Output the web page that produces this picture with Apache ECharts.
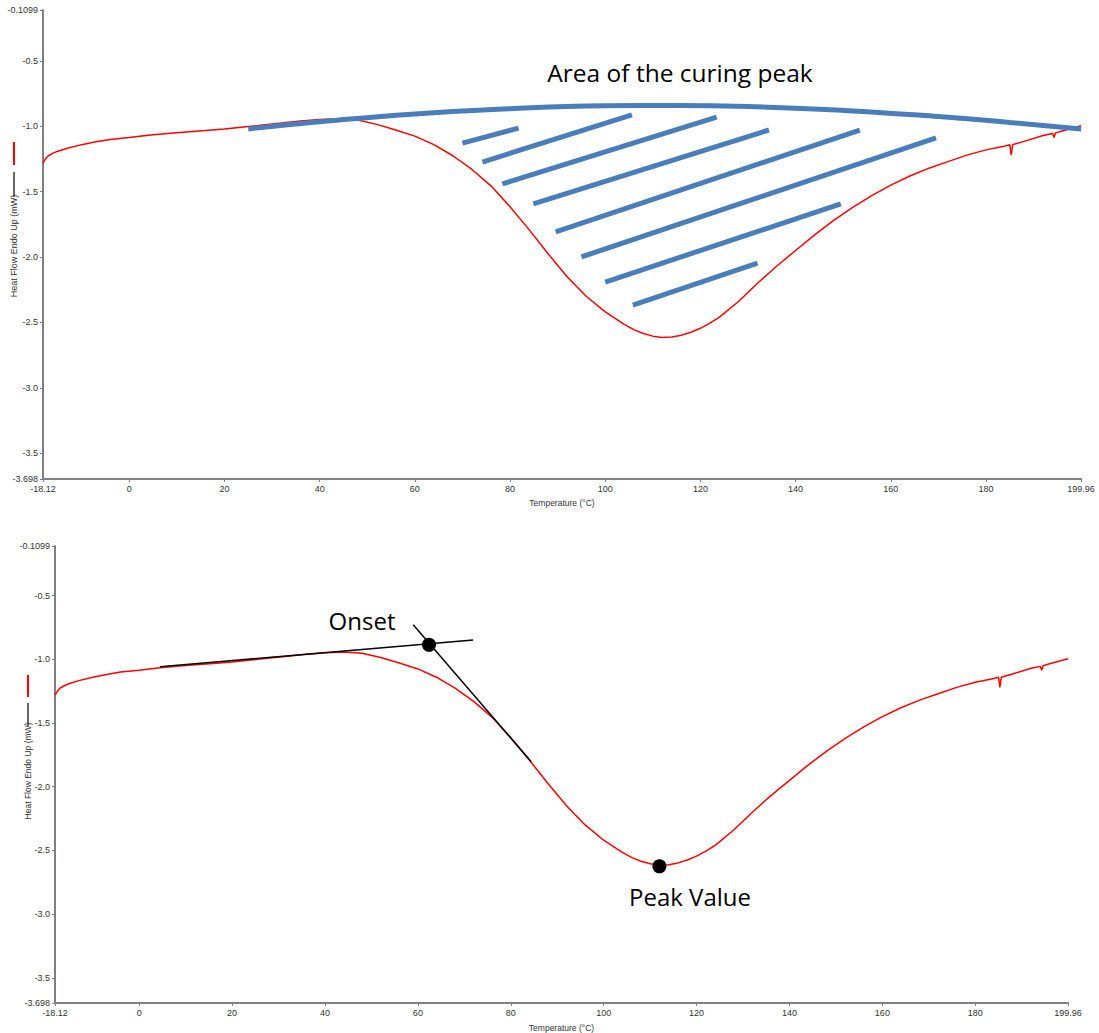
<!DOCTYPE html>
<html>
<head>
<meta charset="utf-8">
<script src="https://cdn.jsdelivr.net/npm/echarts@6/dist/echarts.min.js"></script>
<style>
html,body{margin:0;padding:0;background:#fff;}
#main{width:1099px;height:1033px;}
</style>
</head>
<body>
<div id="main"></div>
<script>
// ---- Data ----
const temperature = [-18.12,-17.5,-17,-16,-15,-13,-10,-7,-4,0,4,8,12,16,20,24,28,32,36,40,44,48,52,56,60,64,68,72,76,80,84,88,92,96,100,104,106,108,110,112,114,116,118,120,122,124,128,132,136,140,144,148,152,156,160,164,168,172,176,180,184,185,185.3,185.6,188,192,194,194.3,194.6,196,199.96];
const heatFlow    = [-1.28,-1.245,-1.225,-1.205,-1.19,-1.167,-1.14,-1.118,-1.10,-1.085,-1.068,-1.055,-1.043,-1.032,-1.02,-1.005,-0.99,-0.975,-0.96,-0.948,-0.942,-0.952,-0.985,-1.028,-1.075,-1.14,-1.225,-1.33,-1.455,-1.615,-1.79,-1.975,-2.15,-2.30,-2.42,-2.515,-2.555,-2.585,-2.605,-2.615,-2.612,-2.598,-2.575,-2.545,-2.505,-2.46,-2.34,-2.20,-2.07,-1.95,-1.83,-1.72,-1.62,-1.53,-1.45,-1.38,-1.32,-1.27,-1.22,-1.18,-1.15,-1.14,-1.22,-1.14,-1.115,-1.07,-1.055,-1.085,-1.05,-1.035,-0.995];

// Blue "area" outline arc (top chart)
const arcTemp  = [25,40,60,80,100,115,130,150,170,185,200];
const arcValue = [-1.02,-0.965,-0.905,-0.865,-0.843,-0.84,-0.848,-0.878,-0.925,-0.97,-1.02];

// Hatch segments (start temp, start value, end temp, end value)
const hatchStartT = [70.0,74.2,78.4,84.9,89.6,95.0,100.0,105.8];
const hatchStartV = [-1.128,-1.273,-1.441,-1.594,-1.808,-1.999,-2.191,-2.367];
const hatchEndT   = [81.8,105.6,123.4,134.4,153.5,169.5,149.5,132.0];
const hatchEndV   = [-1.013,-0.913,-0.929,-1.028,-1.028,-1.089,-1.594,-2.046];

// Bottom chart construction lines and points
const baselineTangent = [[4.5,-1.058],[71.9,-0.847]];
const slopeTangent    = [[59.0,-0.729],[84.4,-1.803]];
const onsetPoint = [62.4,-0.886];
const peakPoint  = [112.0,-2.625];

// Axis ticks
const xTicks = [-18.12,0,20,40,60,80,100,120,140,160,180,199.96];
const yTicks = [-3.698,-3.5,-3.0,-2.5,-2.0,-1.5,-1.0,-0.5,-0.1099];
const xMin = -18.12, xMax = 199.96, yMin = -3.698, yMax = -0.1099;

// ---- Chart ----
const curve = temperature.map((t,i)=>[t,heatFlow[i]]);
const arc = arcTemp.map((t,i)=>[t,arcValue[i]]);
const BLUE = '#4a7ebb';
const AXIS = '#808080';
const FONT = 'Liberation Sans, Arial, sans-serif';
const BIG = 'Open Sans, sans-serif';

function fmtY(v){
  const r = Math.round(v*10)/10;
  return Math.abs(r - v) < 1e-9 ? v.toFixed(1) : String(v);
}
function xAxisCfg(idx){
  return {
    gridIndex: idx, type:'value', min:xMin, max:xMax,
    name:'Temperature (°C)', nameLocation:'middle', nameGap: idx===0?19:20,
    nameTextStyle:{fontSize:8.5,color:'#333',fontFamily:FONT},
    axisLine:{onZero:false,lineStyle:{color:AXIS,width:2}},
    axisTick:{show:true,length:3,customValues:xTicks,lineStyle:{color:AXIS,width:1}},
    axisLabel:{customValues:xTicks,fontSize:9,color:'#333',fontFamily:FONT,margin:5,
      formatter:v=>String(v)},
    splitLine:{show:false}
  };
}
function yAxisCfg(idx){
  return {
    gridIndex: idx, type:'value', min:yMin, max:yMax,
    axisLine:{onZero:false,lineStyle:{color:AXIS,width:2}},
    axisTick:{show:true,length:3,customValues:yTicks,lineStyle:{color:AXIS,width:1}},
    axisLabel:{customValues:yTicks,fontSize:9,color:'#333',fontFamily:FONT,margin:5,formatter:fmtY},
    splitLine:{show:false}
  };
}

const series = [];
// top chart
series.push({type:'line',xAxisIndex:0,yAxisIndex:0,data:curve,showSymbol:false,
  lineStyle:{color:'#ff0000',width:1.5},z:2,animation:false});
series.push({type:'line',xAxisIndex:0,yAxisIndex:0,data:arc,smooth:true,showSymbol:false,
  lineStyle:{color:BLUE,width:5,cap:'butt'},z:3,animation:false});
hatchStartT.forEach((t,i)=>{
  series.push({type:'line',xAxisIndex:0,yAxisIndex:0,
    data:[[t,hatchStartV[i]],[hatchEndT[i],hatchEndV[i]]],showSymbol:false,
    lineStyle:{color:BLUE,width:5,cap:'butt'},z:3,animation:false});
});
// bottom chart
series.push({type:'line',xAxisIndex:1,yAxisIndex:1,data:curve,showSymbol:false,
  lineStyle:{color:'#ff0000',width:1.5},z:2,animation:false});
series.push({type:'line',xAxisIndex:1,yAxisIndex:1,data:baselineTangent,showSymbol:false,
  lineStyle:{color:'#000',width:1.5},z:3,animation:false});
series.push({type:'line',xAxisIndex:1,yAxisIndex:1,data:slopeTangent,showSymbol:false,
  lineStyle:{color:'#000',width:1.5},z:3,animation:false});
series.push({type:'scatter',xAxisIndex:1,yAxisIndex:1,data:[onsetPoint,peakPoint],
  symbolSize:14,itemStyle:{color:'#000',opacity:1},z:4,animation:false});

function yName(x, yText, yBlack, yRed, size){
  return [
    {type:'text',x:x,y:yText,rotation:Math.PI/2,
     style:{text:'Heat Flow Endo Up (mW)',fontSize:size,fill:'#333',fontFamily:FONT,align:'center',verticalAlign:'middle'}},
    {type:'line',shape:{x1:x,y1:yBlack[0],x2:x,y2:yBlack[1]},style:{stroke:'#333',lineWidth:1.5}},
    {type:'line',shape:{x1:x,y1:yRed[0],x2:x,y2:yRed[1]},style:{stroke:'#ff0000',lineWidth:2}}
  ];
}

const chart = echarts.init(document.getElementById('main'),null,{renderer:'svg'});
chart.setOption({
  backgroundColor:'#fff',
  animation:false,
  grid:[
    {left:43,right:18,top:10,height:469,containLabel:false},
    {left:55,right:31,top:546,height:458,containLabel:false}
  ],
  xAxis:[xAxisCfg(0),xAxisCfg(1)],
  yAxis:[yAxisCfg(0),yAxisCfg(1)],
  series:series,
  graphic:[
    ...yName(14,246,[172,197],[142,165],9),
    ...yName(28,771,[703,726],[675,697],8.5),
    {type:'text',x:680,y:72,style:{text:'Area of the curing peak',fontSize:24.5,fill:'#000',fontFamily:BIG,align:'center',verticalAlign:'middle'}},
    {type:'text',x:362,y:620,style:{text:'Onset',fontSize:24,fill:'#000',fontFamily:BIG,align:'center',verticalAlign:'middle'}},
    {type:'text',x:690,y:896,style:{text:'Peak Value',fontSize:24,fill:'#000',fontFamily:BIG,align:'center',verticalAlign:'middle'}}
  ]
});
</script>
</body>
</html>
